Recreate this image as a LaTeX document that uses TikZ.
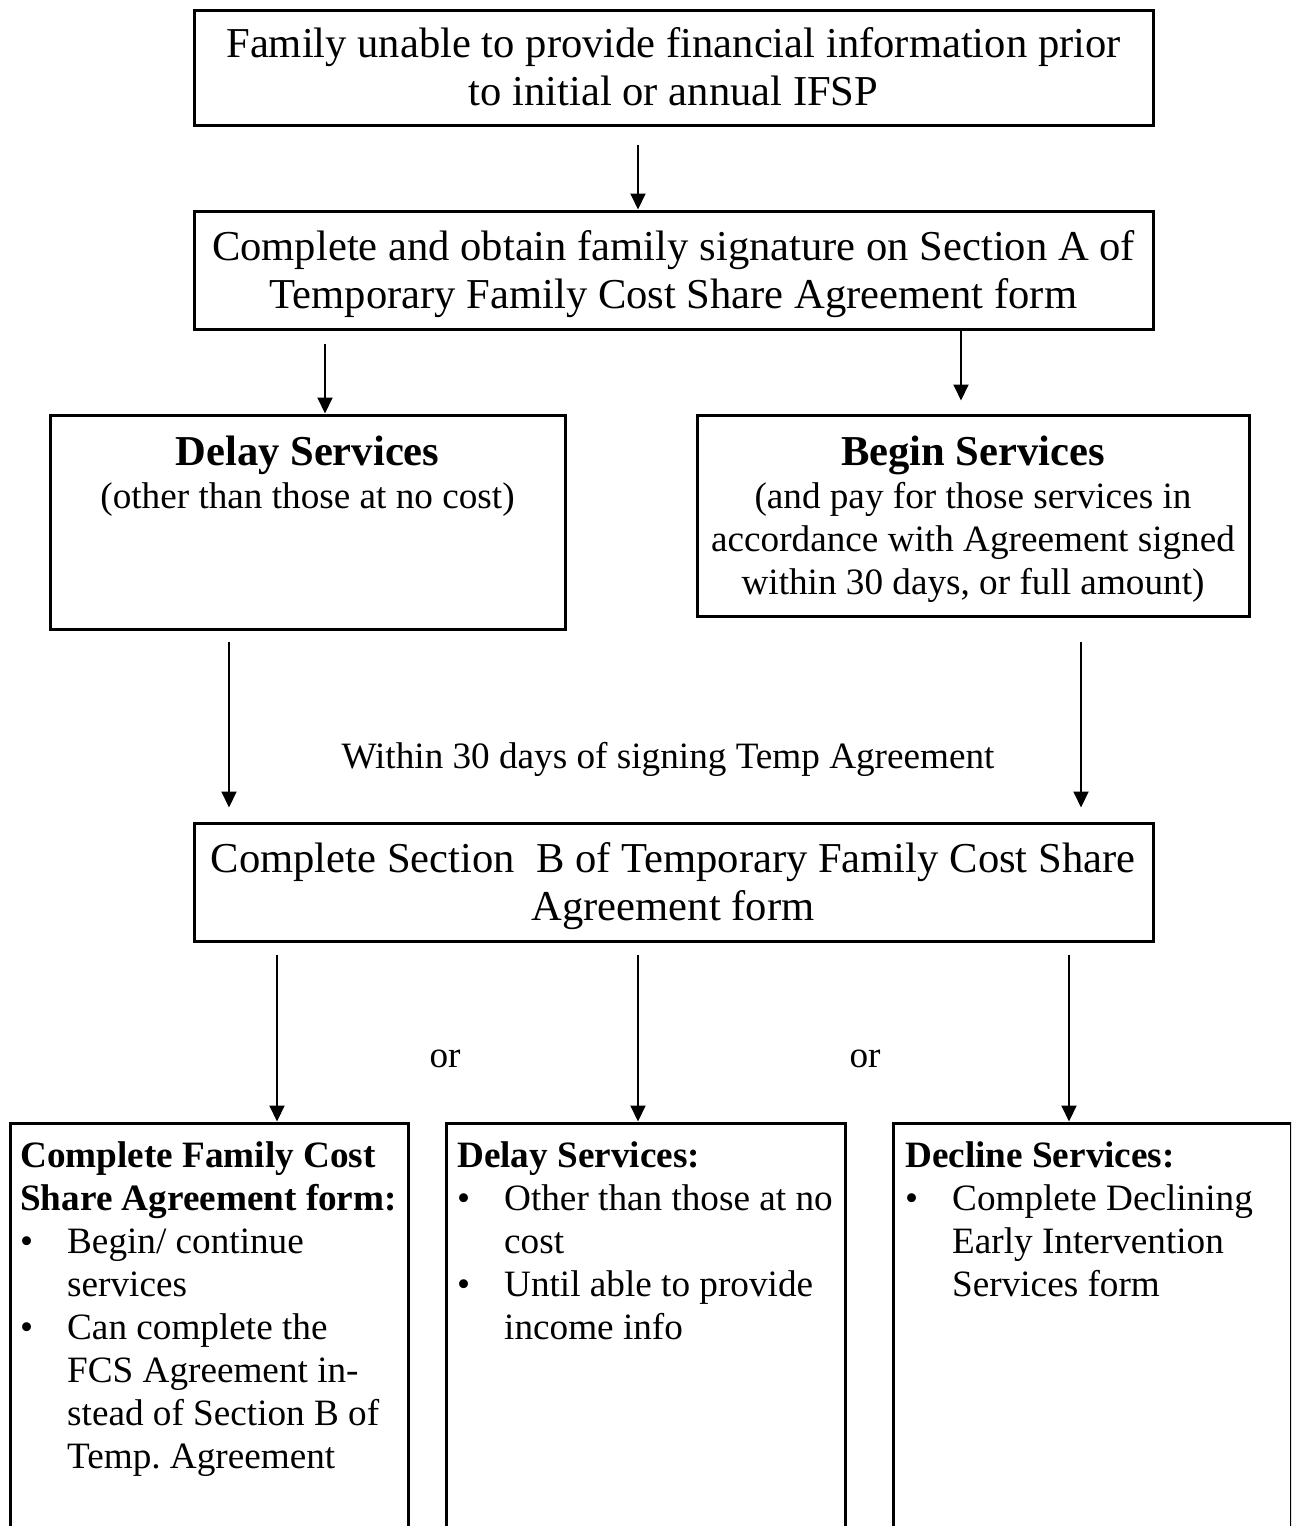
\documentclass[tikz,border=0pt]{standalone}
\usepackage{fontspec}
\setmainfont{Liberation Serif}
\usetikzlibrary{arrows.meta}
\newcommand{\bul}{\makebox[47pt][l]{\textbullet}}
\newcommand{\ind}{\hspace*{47pt}}
\newcommand{\hd}[1]{{\fontsize{42.6}{48}\selectfont\textbf{#1}}}
\frenchspacing
\begin{document}
\begin{tikzpicture}[x=1pt,y=-1pt,
 box/.style={draw, line width=3pt, inner sep=0pt},
 arr/.style={line width=2pt, -{Triangle[width=15pt,length=16pt]}},
 big/.style={font=\fontsize{42.6}{48}\selectfont, align=center, inner sep=0pt},
 med/.style={font=\fontsize{37.2}{43}\selectfont, inner sep=0pt},
]
\useasboundingbox (0,0) rectangle (1291,1526);
\clip (0,0) rectangle (1291,1526);
\fill[white] (0,0) rectangle (1291,1526);

% boxes
\node[box, minimum width=959pt, minimum height=115pt] (b1) at (673.5,67.5) {};
\node[box, minimum width=959pt, minimum height=118pt] (b2) at (673.5,270) {};
\node[box, minimum width=515pt, minimum height=214pt] (b3) at (307.5,522) {};
\node[box, minimum width=552pt, minimum height=201pt] (b4) at (973,515.5) {};
\node[box, minimum width=959pt, minimum height=118pt] (b5) at (673.5,882) {};
\node[box, minimum width=398pt, minimum height=437pt] (b6) at (209,1341.5) {};
\node[box, minimum width=399pt, minimum height=437pt] (b7) at (645.5,1341.5) {};
\node[box, minimum width=398pt, minimum height=437pt] (b8) at (1092,1341.5) {};

% texts
\node[big, anchor=north] (t1) at (673.5,27.5) {Family unable to provide financial information prior\\to initial or annual IFSP};
\node[big, anchor=north] (t2) at (673.5,230.5) {Complete and obtain family signature on Section A of\\Temporary Family Cost Share Agreement form};
\node[med, align=center, anchor=north] (t3) at (307.5,436) {\hd{Delay Services}\\[0pt](other than those at no cost)};
\node[med, align=center, anchor=north] (t4) at (973,436) {\hd{Begin Services}\\[0pt](and pay for those services in\\accordance with Agreement signed\\within 30 days, or full amount)};
\node[med] (w) at (668,759) {Within 30 days of signing Temp Agreement};
\node[big, anchor=north] (t5) at (673,842.5) {Complete Section\ \ B of Temporary Family Cost Share\\Agreement form};
\node[med] (or1) at (445,1059) {or};
\node[med] (or2) at (865,1059) {or};

\node[med, align=left, anchor=north west] (t6) at (20,1141.5) {\textbf{Complete Family Cost}\\
\textbf{Share Agreement form:}\\
\bul Begin/ continue\\
\ind services\\
\bul Can complete the\\
\ind FCS Agreement in-\\
\ind stead of Section B of\\
\ind Temp. Agreement};
\node[med, align=left, anchor=north west] (t7) at (457,1141.5) {\textbf{Delay Services:}\\
\bul Other than those at no\\
\ind cost\\
\bul Until able to provide\\
\ind income info};
\node[med, align=left, anchor=north west] (t8) at (905,1141.5) {\textbf{Decline Services:}\\
\bul Complete Declining\\
\ind Early Intervention\\
\ind Services form};

% arrows
\draw[arr, shorten <=18pt] ([xshift=-35.5pt]b1.south) -- ([xshift=-35.5pt]b2.north);
\draw[arr, shorten <=13pt] ([xshift=17.5pt]b3.north |- b2.south) -- ([xshift=17.5pt]b3.north);
\draw[arr, shorten >=13pt] ([xshift=-12pt]b4.north |- b2.south) -- ([xshift=-12pt]b4.north);
\draw[arr, shorten <=11pt, shorten >=14pt] ([xshift=-78.5pt]b3.south) -- ([xshift=-78.5pt]b3.south |- b5.north);
\draw[arr, shorten <=24pt, shorten >=14pt] ([xshift=108pt]b4.south) -- ([xshift=108pt]b4.south |- b5.north);
\draw[arr, shorten <=12pt] ([xshift=68pt]b6.north |- b5.south) -- ([xshift=68pt]b6.north);
\draw[arr, shorten <=12pt] ([xshift=-7.5pt]b7.north |- b5.south) -- ([xshift=-7.5pt]b7.north);
\draw[arr, shorten <=12pt] ([xshift=-23pt]b8.north |- b5.south) -- ([xshift=-23pt]b8.north);
\end{tikzpicture}
\end{document}
